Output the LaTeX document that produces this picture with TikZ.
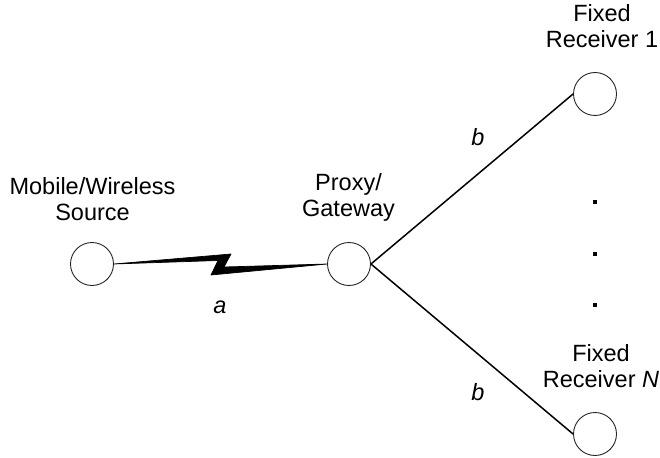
\documentclass[tikz,border=0pt]{standalone}
\usepackage{fontspec}
\setmainfont{Liberation Sans}
\begin{document}
\begin{tikzpicture}[x=1pt,y=-1pt,
  station/.style={circle,draw=black!85,line width=0.9pt,minimum size=43pt,inner sep=0pt},
  caption/.style={align=center,font=\fontsize{23.5}{26}\selectfont,inner sep=0pt,anchor=south,text depth=0pt},
  linklabel/.style={font=\fontsize{23.5}{26}\selectfont\itshape,inner sep=0pt},
  wire/.style={line width=1.5pt,black},
  dotmark/.style={fill=black,minimum size=4pt,inner sep=0pt,rectangle}]
\useasboundingbox (0,0) rectangle (660,457);
\node[station] (src) at (92,264) {};
\node[station] (px) at (349,264) {};
\node[station] (r1) at (595,94) {};
\node[station] (rn) at (595,434) {};
\node[caption] (srclbl) at (92.5,221) {Mobile/Wireless\\Source};
\node[caption] (pxlbl) at (348.5,217) {Proxy/\\Gateway};
\node[caption] (r1lbl) at (602,48) {Fixed\\Receiver 1};
\node[caption] (rnlbl) at (601,388) {Fixed\\Receiver \textit{N}};
\fill[line join=round,draw=black,line width=0.7pt] (src.east) -- (231,254) -- (224,267) -- (px.west) -- (211,275) -- (218,260.5) -- cycle;
\draw[wire] (px.east) -- (r1.west);
\draw[wire] (px.east) -- (rn.west);
\node[linklabel] (la) at (220,307) {a};
\node[linklabel] (lb1) at (478,137) {b};
\node[linklabel] (lb2) at (478,392) {b};
\node[dotmark] (d1) at (595,202) {};
\node[dotmark] (d2) at (595,253.5) {};
\node[dotmark] (d3) at (595,305) {};
\end{tikzpicture}
\end{document}
